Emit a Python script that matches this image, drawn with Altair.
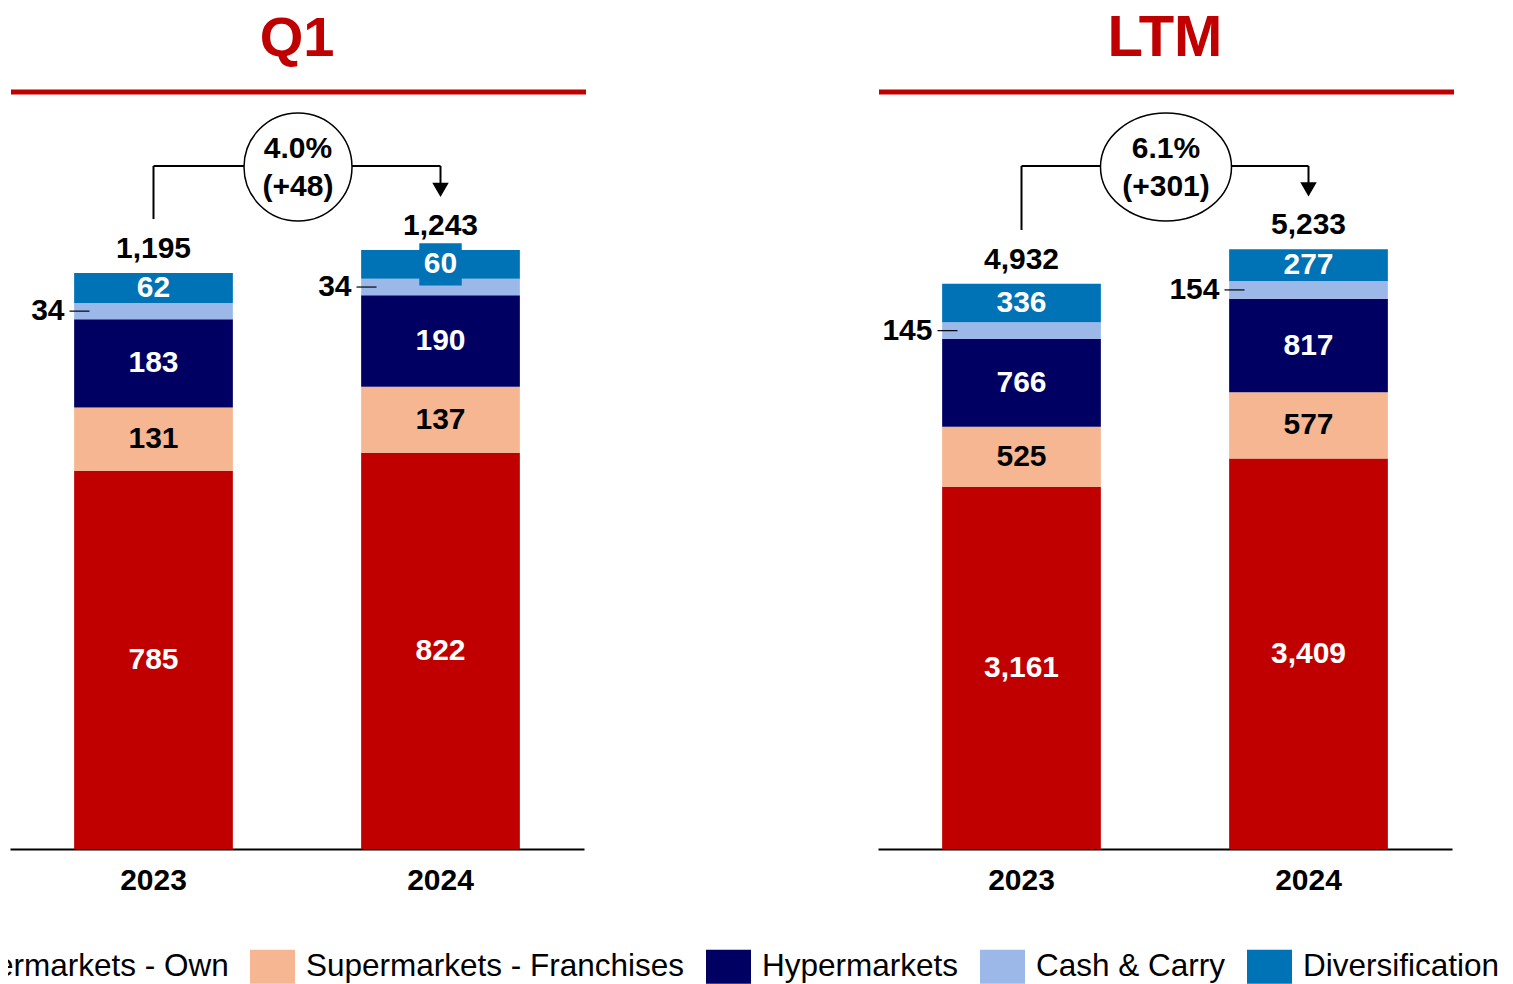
import altair as alt
import pandas as pd

FONT = "Liberation Sans"

segments = ["Supermarkets - Own", "Supermarkets - Franchises", "Hypermarkets",
            "Cash & Carry", "Diversification"]
seg_colors = ["#C00000", "#F5B691", "#000062", "#9BB8E8", "#0073B6"]
years = ["2023", "2024"]

# Q1 values
q1_own = [785, 822]
q1_fran = [131, 137]
q1_hyper = [183, 190]
q1_cc = [34, 34]
q1_div = [62, 60]
q1_total = [1195, 1243]
q1_growth_pct = "4.0%"
q1_growth_abs = "(+48)"

# LTM values
ltm_own = [3161, 3409]
ltm_fran = [525, 577]
ltm_hyper = [766, 817]
ltm_cc = [145, 154]
ltm_div = [336, 277]
ltm_total = [4932, 5233]
ltm_growth_pct = "6.1%"
ltm_growth_abs = "(+301)"

W = 574
H = 748
LEGEND_X = -126

color_scale = alt.Scale(domain=segments, range=seg_colors)
x_scale = alt.Scale(domain=years, paddingInner=0.447, paddingOuter=0.2235)
x_axis = alt.Axis(labelFontSize=30, labelFontWeight="bold", labelColor="black",
                  ticks=False, domainColor="black", domainWidth=2,
                  labelPadding=16, labelAngle=0, labelFont=FONT, grid=False)


def ellipse_path(ratio):
    return f"M-1,0A1,{ratio} 0 1,1 1,0A1,{ratio} 0 1,1 -1,0Z"


def build_frame(own, fran, hyper, cc, div, boxed=None):
    rows = []
    for i, yr in enumerate(years):
        base = 0
        for k, (seg, v) in enumerate(zip(segments, [own[i], fran[i], hyper[i], cc[i], div[i]])):
            rows.append({
                "year": yr, "segment": seg, "value": v, "idx": k,
                "y0": base, "y1": base + v, "mid": base + v / 2,
                "label": f"{v:,}",
                "tcolor": "black" if seg == "Supermarkets - Franchises" else "white",
                "boxed": bool(boxed and (yr, seg) in boxed),
            })
            base += v
    return pd.DataFrame(rows)


def make_panel(title, df, totals, gpct, gabs, ymax, ell_w, ell_h, title_size):
    y_scale = alt.Scale(domain=[0, ymax], nice=False, zero=True)
    xenc = alt.X("year:N", scale=x_scale, title=None, axis=x_axis)

    base = alt.Chart(df)
    bars = base.mark_bar().encode(
        x=xenc,
        y=alt.Y("value:Q", scale=y_scale, axis=None, stack=True),
        color=alt.Color("segment:N", scale=color_scale, sort=segments,
                        legend=alt.Legend(title=None)),
        order=alt.Order("idx:Q", sort="ascending"),
    )

    box = base.transform_filter("datum.boxed").mark_point(
        shape="square", filled=True, size=1800, opacity=1, strokeWidth=0
    ).encode(
        x=xenc,
        y=alt.Y("mid:Q", scale=y_scale, axis=None),
        color=alt.Color("segment:N", scale=color_scale, legend=None),
    )

    inside = base.transform_filter("datum.segment != 'Cash & Carry'").mark_text(
        font=FONT, fontSize=30, fontWeight="bold", baseline="middle", align="center"
    ).encode(
        x=xenc,
        y=alt.Y("mid:Q", scale=y_scale, axis=None),
        text="label:N",
        color=alt.Color("tcolor:N", scale=None),
    )

    cc_df = base.transform_filter("datum.segment == 'Cash & Carry'")
    outside = cc_df.mark_text(
        font=FONT, fontSize=30, fontWeight="bold", baseline="middle", align="right",
        color="black", xOffset=-89
    ).encode(
        x=xenc,
        y=alt.Y("mid:Q", scale=y_scale, axis=None),
        text="label:N",
    )
    leader = cc_df.mark_rule(color="black", strokeWidth=1.2, xOffset=-84, x2Offset=-64).encode(
        x=xenc,
        x2=alt.X2("year:N"),
        y=alt.Y("mid:Q", scale=y_scale, axis=None),
    )

    tot_df = pd.DataFrame({"year": years, "total": totals,
                           "label": [f"{t:,}" for t in totals]})
    tbase = alt.Chart(tot_df)
    tot_text = tbase.mark_text(
        font=FONT, fontSize=30, fontWeight="bold", baseline="middle", align="center",
        color="black", yOffset=-24
    ).encode(
        x=xenc,
        y=alt.Y("total:Q", scale=y_scale, axis=None),
        text="label:N",
    )

    left_v = tbase.transform_filter(f"datum.year == '{years[0]}'").mark_rule(
        color="black", strokeWidth=2, yOffset=-54
    ).encode(
        x=xenc,
        y=alt.Y("total:Q", scale=y_scale, axis=None),
        y2=alt.value(65),
    )
    right_v = tbase.transform_filter(f"datum.year == '{years[1]}'").mark_rule(
        color="black", strokeWidth=2, yOffset=-66
    ).encode(
        x=xenc,
        y=alt.Y("total:Q", scale=y_scale, axis=None),
        y2=alt.value(65),
    )
    arrow = tbase.transform_filter(f"datum.year == '{years[1]}'").mark_point(
        shape="triangle-down", filled=True, color="black", opacity=1, size=270, yOffset=-60
    ).encode(
        x=xenc,
        y=alt.Y("total:Q", scale=y_scale, axis=None),
    )
    hdf = pd.DataFrame({"year": [years[0]], "end": [years[1]]})
    horiz = alt.Chart(hdf).mark_rule(color="black", strokeWidth=2).encode(
        x=xenc,
        x2=alt.X2("end:N"),
        y=alt.value(65),
    )

    gdf = pd.DataFrame({"pct": [gpct], "abs": [gabs]})
    gbase = alt.Chart(gdf)
    circle = gbase.mark_point(
        shape=ellipse_path(round(ell_h / ell_w, 3)), filled=True, fill="white",
        stroke="black", strokeWidth=1.5, size=ell_w * ell_w, opacity=1
    ).encode(x=alt.value(W / 2 + 1), y=alt.value(66))
    gtxt1 = gbase.mark_text(font=FONT, fontSize=30, fontWeight="bold", color="black",
                            baseline="middle").encode(
        x=alt.value(W / 2 + 1), y=alt.value(48), text="pct:N")
    gtxt2 = gbase.mark_text(font=FONT, fontSize=30, fontWeight="bold", color="black",
                            baseline="middle").encode(
        x=alt.value(W / 2 + 1), y=alt.value(86), text="abs:N")

    red_line = gbase.mark_rule(color="#C00000", strokeWidth=5).encode(
        x=alt.value(1), x2=alt.value(W + 2), y=alt.value(-9))

    return alt.layer(
        bars, box, inside, leader, outside, tot_text,
        left_v, right_v, arrow, horiz, circle, gtxt1, gtxt2, red_line
    ).properties(
        width=W, height=H,
        title=alt.TitleParams(text=title, fontSize=title_size, fontWeight="bold",
                              color="#C00000", font=FONT, anchor="middle",
                              frame="group", offset=22),
    )


q1_df = build_frame(q1_own, q1_fran, q1_hyper, q1_cc, q1_div,
                    boxed={("2024", "Diversification")})
ltm_df = build_frame(ltm_own, ltm_fran, ltm_hyper, ltm_cc, ltm_div)

p1 = make_panel("Q1", q1_df, q1_total, q1_growth_pct, q1_growth_abs, 1552, 108, 108, 56)
p2 = make_panel("LTM", ltm_df, ltm_total, ltm_growth_pct, ltm_growth_abs, 6529, 131, 108, 58)

chart = alt.hconcat(p1, p2, spacing=294, bounds="flush").resolve_scale(
    y="independent"
).properties(
    padding={"left": LEGEND_X + 2, "top": 1, "right": 0, "bottom": 0}
).configure(font=FONT).configure_view(
    strokeWidth=0, stroke=None
).configure_legend(
    orient="none", legendX=LEGEND_X, legendY=843, direction="horizontal", columns=5,
    symbolType="M-1,-0.755H1V0.755H-1Z", symbolSize=2025, symbolStrokeWidth=0,
    symbolOpacity=1,
    labelFontSize=31.5, labelFont=FONT, labelColor="black", labelLimit=600,
    labelOffset=11, columnPadding=21, padding=0, title=None
)

chart.save("out.html", embed_options={"renderer": "svg", "actions": False})
